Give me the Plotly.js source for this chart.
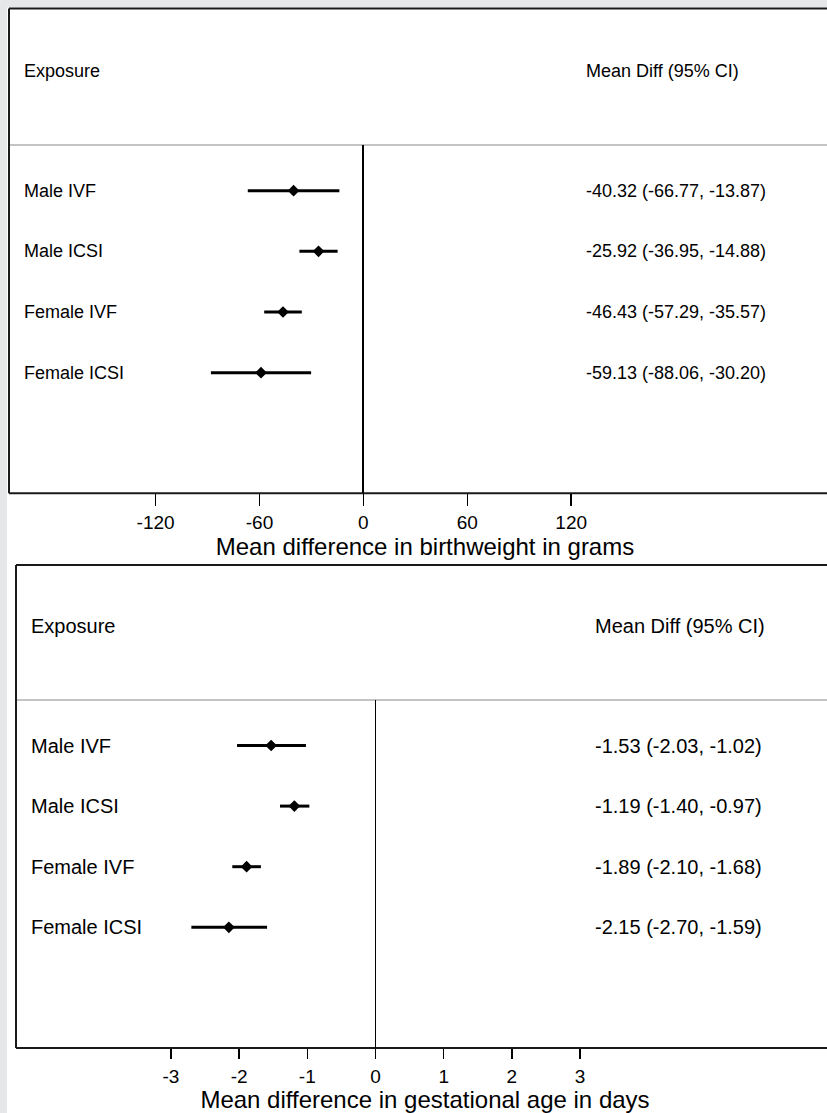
<!DOCTYPE html>
<html>
<head>
<meta charset="utf-8">
<script src="https://cdn.plot.ly/plotly-3.0.1.min.js"></script>
<style>
html,body{margin:0;padding:0;background:#fff;}
#chart{width:827px;height:1113px;}
</style>
</head>
<body>
<div id="chart"></div>
<script>
// ---- data ----
const exposures = ['Male IVF', 'Male ICSI', 'Female IVF', 'Female ICSI'];
const bwMean = [-40.32, -25.92, -46.43, -59.13];
const bwLow  = [-66.77, -36.95, -57.29, -88.06];
const bwHigh = [-13.87, -14.88, -35.57, -30.20];
const gaMean = [-1.53, -1.19, -1.89, -2.15];
const gaLow  = [-2.03, -1.40, -2.10, -2.70];
const gaHigh = [-1.02, -0.97, -1.68, -1.59];
const bwTicks = [-120, -60, 0, 60, 120];
const gaTicks = [-3, -2, -1, 0, 1, 2, 3];
const headerLeft = 'Exposure';
const headerRight = 'Mean Diff (95% CI)';
const bwTitle = 'Mean difference in birthweight in grams';
const gaTitle = 'Mean difference in gestational age in days';

// ---- helpers (pixel -> paper) ----
const W = 827, H = 1113;
const px = v => v / W;
const py = v => 1 - v / H;
const FONT = 'Liberation Sans, Arial, Helvetica, sans-serif';
const rows = exposures.map((_, i) => i);
const fmt = (m, l, h) => m.toFixed(2) + ' (' + l.toFixed(2) + ', ' + h.toFixed(2) + ')';

const traces = [
  {
    type: 'scatter', mode: 'markers', x: bwMean, y: rows, xaxis: 'x', yaxis: 'y',
    marker: {symbol: 'diamond', size: 9, color: '#000'},
    error_x: {type: 'data', symmetric: false,
      array: bwHigh.map((h, i) => h - bwMean[i]),
      arrayminus: bwLow.map((l, i) => bwMean[i] - l),
      width: 0, thickness: 3, color: '#000'},
    hoverinfo: 'skip', showlegend: false
  },
  {
    type: 'scatter', mode: 'markers', x: gaMean, y: rows, xaxis: 'x2', yaxis: 'y2',
    marker: {symbol: 'diamond', size: 9, color: '#000'},
    error_x: {type: 'data', symmetric: false,
      array: gaHigh.map((h, i) => h - gaMean[i]),
      arrayminus: gaLow.map((l, i) => gaMean[i] - l),
      width: 0, thickness: 3, color: '#000'},
    hoverinfo: 'skip', showlegend: false
  }
];

const annotations = [];
// top panel
annotations.push({xref: 'paper', yref: 'paper', x: px(22), y: py(71), xanchor: 'left', yanchor: 'middle',
  text: headerLeft, showarrow: false, font: {family: FONT, size: 18, color: '#000'}});
annotations.push({xref: 'paper', yref: 'paper', x: px(584), y: py(71), xanchor: 'left', yanchor: 'middle',
  text: headerRight, showarrow: false, font: {family: FONT, size: 18, color: '#000'}});
exposures.forEach((e, i) => {
  annotations.push({xref: 'paper', yref: 'y', x: px(22), y: rows[i], xanchor: 'left', yanchor: 'middle',
    text: e, showarrow: false, font: {family: FONT, size: 18, color: '#000'}});
  annotations.push({xref: 'paper', yref: 'y', x: px(584), y: rows[i], xanchor: 'left', yanchor: 'middle',
    text: fmt(bwMean[i], bwLow[i], bwHigh[i]), showarrow: false, font: {family: FONT, size: 18, color: '#000'}});
});
// bottom panel
annotations.push({xref: 'paper', yref: 'paper', x: px(29), y: py(626), xanchor: 'left', yanchor: 'middle',
  text: headerLeft, showarrow: false, font: {family: FONT, size: 20, color: '#000'}});
annotations.push({xref: 'paper', yref: 'paper', x: px(593), y: py(626), xanchor: 'left', yanchor: 'middle',
  text: headerRight, showarrow: false, font: {family: FONT, size: 20, color: '#000'}});
exposures.forEach((e, i) => {
  annotations.push({xref: 'paper', yref: 'y2', x: px(29), y: rows[i], xanchor: 'left', yanchor: 'middle',
    text: e, showarrow: false, font: {family: FONT, size: 20, color: '#000'}});
  annotations.push({xref: 'paper', yref: 'y2', x: px(593), y: rows[i], xanchor: 'left', yanchor: 'middle',
    text: fmt(gaMean[i], gaLow[i], gaHigh[i]), showarrow: false, font: {family: FONT, size: 20, color: '#000'}});
});

const line = (x0, y0, x1, y1, color, width) => ({type: 'line', xref: 'paper', yref: 'paper',
  x0: px(x0), y0: py(y0), x1: px(x1), y1: py(y1), line: {color: color, width: width}, layer: 'below'});
const BG = '#e6e7e9', BORDER = '#1a1a1a', SEP = '#c4c4c4';
const shapes = [
  {type: 'rect', xref: 'paper', yref: 'paper', x0: 0, x1: px(7), y0: 0, y1: 1, fillcolor: BG, line: {width: 0}, layer: 'below'},
  {type: 'rect', xref: 'paper', yref: 'paper', x0: 0, x1: 1, y0: py(7.5), y1: 1, fillcolor: BG, line: {width: 0}, layer: 'below'},
  // top panel box
  line(9, 8.5, 827, 8.5, BORDER, 2),
  line(9, 8.5, 9, 493.3, BORDER, 2),
  line(9, 493.3, 827, 493.3, BORDER, 2),
  line(10, 145, 827, 145, SEP, 2),
  // bottom panel box
  line(16, 565, 827, 565, BORDER, 2),
  line(16, 565, 16, 1048, BORDER, 2),
  line(16, 1048, 827, 1048, BORDER, 2),
  line(17, 700, 827, 700, SEP, 2)
];

const axisCommon = {
  showgrid: false, zeroline: true, zerolinecolor: '#000', zerolinewidth: 1.8,
  showline: false, ticks: 'outside', tickcolor: '#000', tickwidth: 1.5,
  fixedrange: true
};

const layout = {
  width: W, height: H,
  margin: {l: 0, r: 0, t: 0, b: 0},
  paper_bgcolor: '#fff', plot_bgcolor: 'rgba(0,0,0,0)',
  showlegend: false,
  xaxis: Object.assign({}, axisCommon, {
    domain: [px(23), 1], anchor: 'y',
    range: [(23 - 363.4) * 60 / 103.9, (827 - 363.4) * 60 / 103.9],
    tickmode: 'array', tickvals: bwTicks, ticktext: bwTicks.map(String),
    ticklen: 12, ticklabelstandoff: 0,
    tickfont: {family: FONT, size: 19, color: '#000'},
    title: {text: bwTitle, font: {family: FONT, size: 24, color: '#000'}, standoff: 0}
  }),
  yaxis: {domain: [py(493.3), py(145)], anchor: 'x', range: [4.988, -0.753], visible: false, fixedrange: true},
  xaxis2: Object.assign({}, axisCommon, {
    domain: [px(23), 1], anchor: 'y2',
    range: [(23 - 375.5) / 68.2, (827 - 375.5) / 68.2],
    tickmode: 'array', tickvals: gaTicks, ticktext: gaTicks.map(String),
    ticklen: 10, ticklabelstandoff: 1,
    tickfont: {family: FONT, size: 19, color: '#000'},
    title: {text: gaTitle, font: {family: FONT, size: 24, color: '#000'}, standoff: 3}
  }),
  yaxis2: {domain: [py(1048), py(700)], anchor: 'x2', range: [4.992, -0.751], visible: false, fixedrange: true},
  annotations: annotations,
  shapes: shapes
};

Plotly.newPlot('chart', traces, layout, {displayModeBar: false, staticPlot: true});
</script>
</body>
</html>
